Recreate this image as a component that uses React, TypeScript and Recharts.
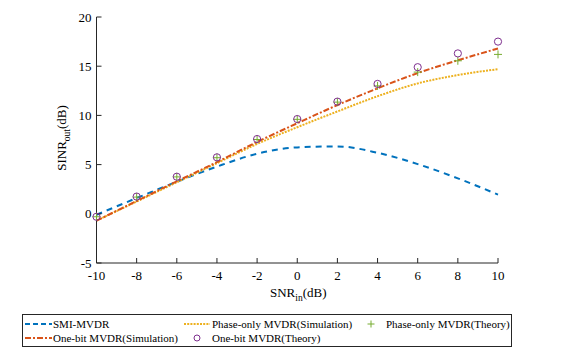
import React from 'react';
import { ComposedChart, Line, XAxis, YAxis, Label } from 'recharts';

const snrIn = [-10, -8, -6, -4, -2, 0, 2, 4, 6, 8, 10];
const smiMvdr = [-0.1, 1.6, 3.25, 4.8, 6.1, 6.75, 6.85, 6.2, 5.05, 3.6, 1.95];
const oneBitSim = [-0.7, 1.3, 3.3, 5.25, 7.3, 9.2, 11.05, 12.75, 14.3, 15.6, 16.8];
const phaseOnlySim = [-0.7, 1.25, 3.2, 5.15, 7.1, 8.8, 10.4, 11.95, 13.25, 14.1, 14.7];
const phaseOnlyTheory = [-0.3, 1.7, 3.75, 5.7, 7.55, 9.6, 11.35, 13.0, 14.4, 15.55, 16.2];
const oneBitTheory = [-0.3, 1.75, 3.77, 5.74, 7.6, 9.63, 11.4, 13.2, 14.9, 16.3, 17.5];

const xTicks = [-10, -8, -6, -4, -2, 0, 2, 4, 6, 8, 10];
const yTicks = [-5, 0, 5, 10, 15, 20];

const legendLabels = [
  'SMI-MVDR',
  'Phase-only MVDR(Simulation)',
  'Phase-only MVDR(Theory)',
  'One-bit MVDR(Simulation)',
  'One-bit MVDR(Theory)',
];

const C_BLUE = '#0072BD';
const C_RED = '#D95319';
const C_ORANGE = '#EDB120';
const C_GREEN = '#77AC30';
const C_PURPLE = '#7E2F8E';
const AXIS = '#262626';
const FONT = '"Liberation Serif", "Times New Roman", serif';

const data = snrIn.map((x, i) => ({
  x,
  smi: smiMvdr[i],
  oneBitSim: oneBitSim[i],
  phaseSim: phaseOnlySim[i],
  phaseTh: phaseOnlyTheory[i],
  oneBitTh: oneBitTheory[i],
}));

const PlusDot = (props: any) => {
  const { cx, cy } = props;
  if (cx == null || cy == null) return null;
  return (
    <path
      d={`M${cx - 4},${cy}H${cx + 4}M${cx},${cy - 4}V${cy + 4}`}
      stroke={C_GREEN}
      strokeWidth={1}
      fill="none"
    />
  );
};

const CircleDot = (props: any) => {
  const { cx, cy } = props;
  if (cx == null || cy == null) return null;
  return <circle cx={cx} cy={cy} r={3.6} stroke={C_PURPLE} strokeWidth={1} fill="none" />;
};

const XLabel = (props: any) => {
  const vb = props.viewBox || {};
  const cx = vb.x + vb.width / 2;
  return (
    <text x={cx + 1} y={297} textAnchor="middle" fontFamily={FONT} fontSize={13} fill="#000">
      <tspan>SNR</tspan>
      <tspan dy={4} fontSize={9.5}>in</tspan>
      <tspan dy={-4}>(dB)</tspan>
    </text>
  );
};

const YLabel = (props: any) => {
  const vb = props.viewBox || {};
  const cy = vb.y + vb.height / 2 - 2;
  const x = 66;
  return (
    <text
      x={x}
      y={cy}
      transform={`rotate(-90 ${x} ${cy})`}
      textAnchor="middle"
      fontFamily={FONT}
      fontSize={13}
      fill="#000"
    >
      <tspan>SINR</tspan>
      <tspan dy={4} fontSize={9.5}>out</tspan>
      <tspan dy={-4}>(dB)</tspan>
    </text>
  );
};

const tickStyle = { fontFamily: FONT, fontSize: 13, fill: '#000' };

const Legend = () => (
  <svg
    width={575}
    height={352}
    style={{ position: 'absolute', left: 0, top: 0, pointerEvents: 'none' }}
  >
    <rect x={22.5} y={314.5} width={489} height={32} fill="#fff" stroke={AXIS} strokeWidth={1} />
    <g fontFamily={FONT} fontSize={11} fill="#000">
      <line x1={25} x2={52} y1={324} y2={324} stroke={C_BLUE} strokeWidth={2} strokeDasharray="5 3" />
      <text x={53} y={328}>{legendLabels[0]}</text>
      <line x1={184} x2={210} y1={324} y2={324} stroke={C_ORANGE} strokeWidth={2} strokeDasharray="2 1.2" />
      <text x={212} y={328}>{legendLabels[1]}</text>
      <path d="M367.5,324H374.5M371,320.5V327.5" stroke={C_GREEN} strokeWidth={1} />
      <text x={386} y={328}>{legendLabels[2]}</text>
      <line x1={25} x2={52} y1={338} y2={338} stroke={C_RED} strokeWidth={2} strokeDasharray="6 2 2 2" />
      <text x={53} y={342}>{legendLabels[3]}</text>
      <circle cx={197} cy={338} r={3} stroke={C_PURPLE} strokeWidth={1} fill="none" />
      <text x={212} y={342}>{legendLabels[4]}</text>
    </g>
  </svg>
);

export default function App() {
  return (
    <div
      style={{
        position: 'absolute',
        left: 0,
        top: 0,
        width: 575,
        height: 352,
        background: '#fff',
        fontFamily: FONT,
      }}
    >
      <ComposedChart
        width={575}
        height={352}
        data={data}
        margin={{ top: 17, right: 77, bottom: 59, left: 0 }}
        style={{ fontFamily: FONT }}
      >
        <XAxis
          dataKey="x"
          type="number"
          domain={[-10, 10]}
          ticks={xTicks}
          interval={0}
          height={30}
          tickSize={-5}
          tickMargin={13}
          tick={tickStyle}
          stroke={AXIS}
          axisLine={{ stroke: AXIS }}
          tickLine={{ stroke: AXIS }}
        >
          <Label content={<XLabel />} />
        </XAxis>
        <XAxis
          xAxisId="top"
          orientation="top"
          dataKey="x"
          type="number"
          domain={[-10, 10]}
          ticks={xTicks}
          interval={0}
          height={0}
          tickSize={-5}
          tickFormatter={() => ''}
          stroke={AXIS}
        />
        <YAxis
          type="number"
          domain={[-5, 20]}
          ticks={yTicks}
          interval={0}
          width={96.5}
          tickSize={-5}
          tickMargin={10}
          tick={tickStyle}
          stroke={AXIS}
        >
          <Label content={<YLabel />} />
        </YAxis>
        <YAxis
          yAxisId="right"
          orientation="right"
          type="number"
          domain={[-5, 20]}
          ticks={yTicks}
          interval={0}
          width={0}
          tickSize={-5}
          tickFormatter={() => ''}
          stroke={AXIS}
        />
        <Line
          dataKey="smi"
          type="monotone"
          stroke={C_BLUE}
          strokeWidth={2}
          strokeDasharray="6 5"
          dot={false}
          isAnimationActive={false}
        />
        <Line
          dataKey="phaseSim"
          type="monotone"
          stroke={C_ORANGE}
          strokeWidth={2}
          strokeDasharray="2 1.2"
          dot={false}
          isAnimationActive={false}
        />
        <Line
          dataKey="oneBitSim"
          type="monotone"
          stroke={C_RED}
          strokeWidth={2}
          strokeDasharray="6 2 2 2"
          dot={false}
          isAnimationActive={false}
        />
        <Line
          dataKey="phaseTh"
          stroke="none"
          dot={<PlusDot />}
          activeDot={false}
          isAnimationActive={false}
        />
        <Line
          dataKey="oneBitTh"
          stroke="none"
          dot={<CircleDot />}
          activeDot={false}
          isAnimationActive={false}
        />
      </ComposedChart>
      <Legend />
    </div>
  );
}
